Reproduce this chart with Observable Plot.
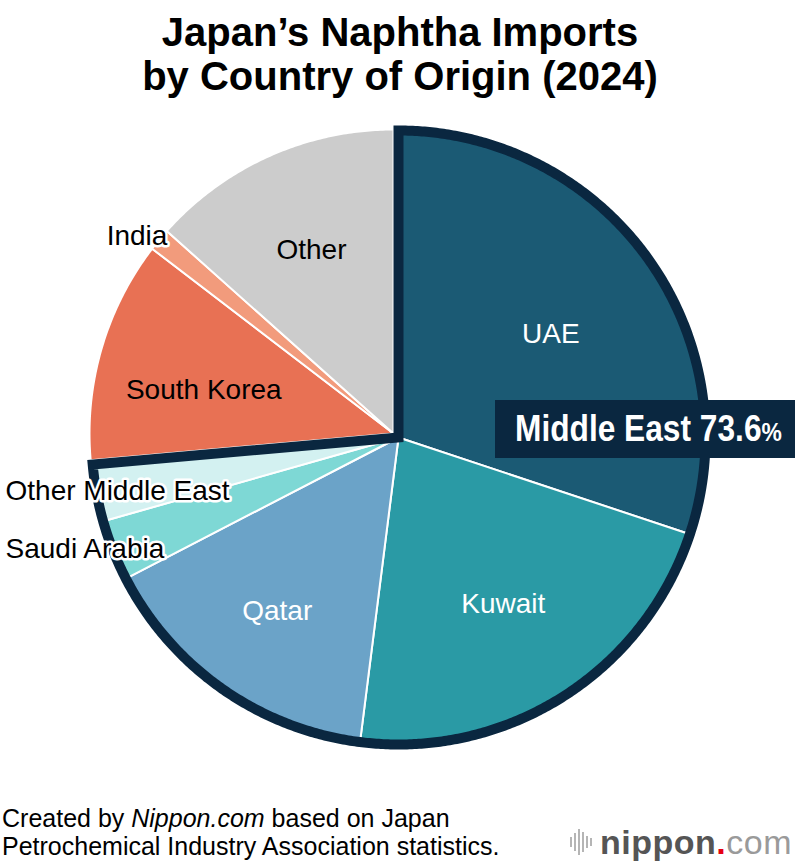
<!DOCTYPE html>
<html>
<head>
<meta charset="utf-8">
<script src="https://cdn.jsdelivr.net/npm/d3@7"></script>
<script src="https://cdn.jsdelivr.net/npm/@observablehq/plot@0.6"></script>
<style>
  html, body { margin: 0; padding: 0; background: #fff; }
  #wrap { position: relative; width: 800px; height: 866px; overflow: hidden; font-family: "Liberation Sans", Arial, Helvetica, sans-serif; }
  #title { position: absolute; top: 10px; left: 0; width: 800px; text-align: center; font-weight: bold; font-size: 40px; line-height: 44px; color: #000; }
  #chart { position: absolute; top: 112px; left: 0; }
  #mebox { position: absolute; left: 495px; top: 400px; width: 300px; height: 58px; background: #0a2740; color: #fff;
           font-family: "Liberation Sans", Arial, sans-serif; font-weight: bold;
           font-size: 36px; line-height: 58px; padding-left: 20px; box-sizing: border-box; white-space: nowrap; }
  #mebox .inner { display: inline-block; transform: scaleX(0.88); transform-origin: left center; }
  #mebox .pct { font-size: 26px; }
  #footer { position: absolute; left: 2px; top: 804px; font-size: 25px; line-height: 28px; color: #000; white-space: nowrap; }
  #logo { position: absolute; left: 570px; top: 822px; height: 40px; display: flex; align-items: center; }
  #logo .bars { display: flex; align-items: center; gap: 2px; margin-right: 8px; }
  #logo .bars span { display: block; width: 2px; background: #b5b5b5; }
  #logo .t { font-size: 34px; line-height: 40px; letter-spacing: 0.5px; }
  #logo .n { color: #555; font-weight: bold; }
  #logo .d { color: #e60012; font-weight: bold; }
  #logo .c { color: #9a9a9a; }
</style>
</head>
<body>
<div id="wrap">
  <div id="title">Japan’s Naphtha Imports<br>by Country of Origin (2024)</div>
  <div id="chart"></div>
  <div id="mebox"></div>
  <div id="footer">Created by <i>Nippon.com</i> based on Japan<br>Petrochemical Industry Association statistics.</div>
  <div id="logo"><div class="bars"><span style="height:10px"></span><span style="height:18px"></span><span style="height:26px"></span><span style="height:20px"></span><span style="height:12px"></span><span style="height:8px"></span></div><div class="t"><span class="n">nippon</span><span class="d">.</span><span class="c">com</span></div></div>
</div>
<script>
// ---- data (share of imports, %) ----
const names  = ["UAE", "Kuwait", "Qatar", "Saudi Arabia", "Other Middle East", "South Korea", "India", "Other"];
const shares = [30.1, 21.9, 15.4, 3.2, 3.0, 11.8, 1.2, 13.4];
const region = ["Middle East", "Middle East", "Middle East", "Middle East", "Middle East", "Other", "Other", "Other"];
const colors = ["#1b5a74", "#2a9aa5", "#6ba3c8", "#7ed8d5", "#d3f1f1", "#e87154", "#f29b7c", "#cccccc"];
const regionLabel = "Middle East";

// ---- layout ----
const W = 800, H = 688;
const meGeom = {cx: 398, cy: 325, r: 307};
const otherGeom = {cx: 393, cy: 321, r: 304};
const labelLayout = {
  "UAE": {r: 0.60, da: 1.6, color: "#fff"},
  "Kuwait": {r: 0.64, da: 0, color: "#fff"},
  "Qatar": {r: 0.69, da: 0, color: "#fff"},
  "Saudi Arabia": {r: 0.99, da: 0, left: true},
  "Other Middle East": {r: 0.96, da: 0, left: true},
  "South Korea": {r: 0.64, da: -3.4},
  "India": {r: 1.065, da: -2, halo: true},
  "Other": {r: 0.66, da: 0}
};

const total = d3.sum(shares);
let acc = 0;
const slices = names.map((name, i) => {
  const a0 = acc / total * 2 * Math.PI;
  acc += shares[i];
  const a1 = acc / total * 2 * Math.PI;
  return {name, a0, a1, geom: region[i] === regionLabel ? meGeom : otherGeom};
});
const pt = (g, a, rr) => [g.cx + rr * Math.sin(a), g.cy - rr * Math.cos(a)];

// slice polygons
const poly = [];
for (const s of slices) {
  const g = s.geom;
  poly.push({name: s.name, x: g.cx, y: g.cy});
  const n = Math.max(4, Math.ceil((s.a1 - s.a0) / (Math.PI / 360)));
  for (let k = 0; k <= n; k++) {
    const [x, y] = pt(g, s.a0 + (s.a1 - s.a0) * k / n, g.r);
    poly.push({name: s.name, x, y});
  }
}

// Middle East outline
const meShare = d3.sum(shares.filter((v, i) => region[i] === regionLabel));
const meEnd = meShare / total * 2 * Math.PI;
const outline = [{x: meGeom.cx, y: meGeom.cy}];
for (let k = 0; k <= 600; k++) {
  const [x, y] = pt(meGeom, meEnd * k / 600, meGeom.r);
  outline.push({x, y});
}

// labels
const labels = slices.map(s => {
  const L = labelLayout[s.name];
  const mid = (s.a0 + s.a1) / 2 + (L.da || 0) * Math.PI / 180;
  const [x, y] = pt(s.geom, mid, s.geom.r * L.r);
  return {name: s.name, x: L.left ? 5 : x, y, left: !!L.left,
          color: L.color || "#000", halo: !!(L.left || L.halo)};
});

const FS = 28;
const plot = Plot.plot({
  width: W, height: H,
  margin: 0,
  x: {domain: [0, W], range: [0, W], axis: null},
  y: {domain: [0, H], range: [0, H], axis: null},
  color: {domain: names, range: colors},
  style: {fontFamily: "'Liberation Sans', Arial, Helvetica, sans-serif", background: "white"},
  marks: [
    Plot.line(poly, {x: "x", y: "y", z: "name", fill: "name", stroke: "white", strokeWidth: 2,
                     curve: "linear-closed", strokeLinejoin: "round"}),
    Plot.line(outline, {x: "x", y: "y", stroke: "#0a2740", strokeWidth: 10, fill: "none",
                        curve: "linear-closed", strokeLinejoin: "miter", strokeMiterlimit: 10}),
    Plot.text(labels.filter(d => !d.halo), {x: "x", y: "y", text: "name", fill: "color",
                        fontSize: FS, textAnchor: "middle", lineAnchor: "middle"}),
    Plot.text(labels.filter(d => d.halo && !d.left), {x: "x", y: "y", text: "name", fill: "#000",
                        stroke: "white", strokeWidth: 5, strokeLinejoin: "round",
                        fontSize: FS, textAnchor: "middle", lineAnchor: "middle"}),
    Plot.text(labels.filter(d => d.left), {x: "x", y: "y", text: "name", fill: "#000",
                        stroke: "white", strokeWidth: 5, strokeLinejoin: "round",
                        fontSize: FS, textAnchor: "start", lineAnchor: "middle"})
  ]
});
document.getElementById("chart").appendChild(plot);

document.getElementById("mebox").innerHTML =
  `<span class="inner">${regionLabel} ${meShare.toFixed(1)}<span class="pct">%</span></span>`;
</script>
</body>
</html>
